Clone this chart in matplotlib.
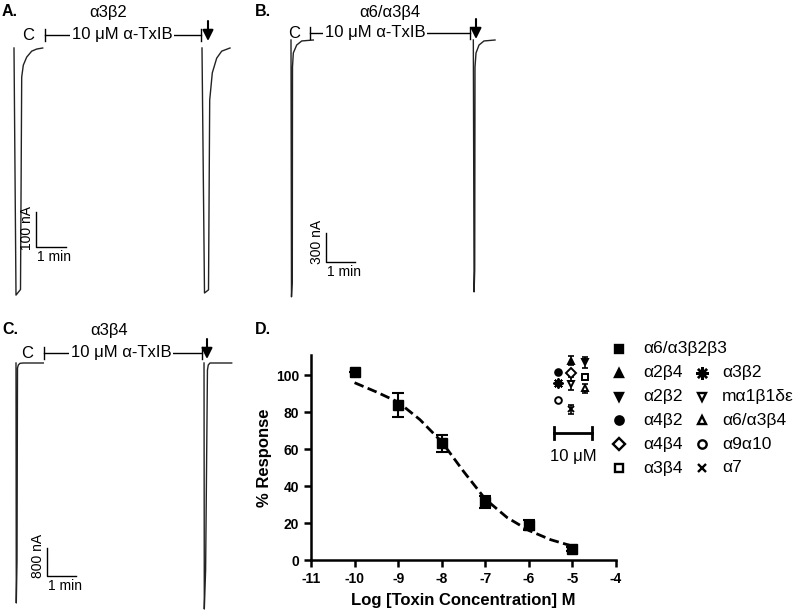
import matplotlib
matplotlib.use('Agg')
import matplotlib.pyplot as plt

plt.rcParams['font.family'] = ['Liberation Sans', 'DejaVu Sans']
plt.rcParams['axes.unicode_minus'] = False

W, H = 794, 610

# ---- current traces (time in s, current in nA) ----
a_ctrl_t = [0, 4, 13, 15.4, 18.6, 25.4, 35.4, 45.4, 57.4]
a_ctrl_i = [0, -706, -690, -83, -49, -26, -9, -3, 0]
a_post_t = [376, 381, 389, 391.4, 396.6, 405.4, 415.4, 432]
a_post_i = [0, -700, -691, -149, -71, -29, -9, 0]

b_ctrl_t = [0, 1.0, 2.7, 3.1, 4.8, 11.8, 22.2, 46.2]
b_ctrl_i = [0, -2657, -2482, -279, -134, -52, -10, 0]
b_post_t = [377.4, 379, 380.3, 380.9, 383, 389.2, 399.5, 422.3]
b_post_i = [0, -2606, -2378, -279, -134, -52, -10, 0]

c_ctrl_t = [0, 0.6, 2.1, 3.1, 4.8, 8.3, 15.1, 56.5]
c_ctrl_i = [0, -6857, -5657, -143, -57, -9, 0, 0]
c_post_t = [389.2, 389.8, 392.5, 396.3, 398, 401.6, 411.9, 446.5]
c_post_i = [0, -7029, -5914, -200, -57, 0, 0, 0]

# ---- concentration-response ----
log_conc = [-10, -9, -8, -7, -6, -5]
response = [101.6, 83.8, 63.2, 31.4, 19.0, 5.9]
resp_err = [0, 6.5, 4.6, 3.5, 2.7, 1.0]

fit_x = [-10, -9.5, -9, -8.5, -8, -7.5, -7, -6.5, -6, -5.5, -5]
fit_y = [96, 91, 85.5, 76, 64, 48, 33, 23, 16, 11, 7.5]

# responses to 10 uM for the other subtypes (inset)
ASTER = (8, 2, 0)
inset_col = [0, 0, 0, 1, 1, 1, 1, 2, 2, 2]
inset_val = [102, 96, 86.5, 108, 101, 95.5, 81.5, 107, 99, 93]
inset_err = [0, 0, 0, 2.5, 0, 3.5, 2.5, 3, 0, 2.5]
inset_mk = ['o', ASTER, 'o', '^', 'D', 'v', 'x', 'v', 's', '^']
inset_fill = [True, True, False, True, False, False, True, True, False, False]
inset_x = [-5.33, -5.03, -4.71]

legend_col1 = ['α6/α3β2β3', 'α2β4', 'α2β2', 'α4β2', 'α4β4', 'α3β4']
legend_mk1 = ['s', '^', 'v', 'o', 'D', 's']
legend_fill1 = [True, True, True, True, False, False]
legend_col2 = ['α3β2', 'mα1β1δε', 'α6/α3β4', 'α9α10', 'α7']
legend_mk2 = [ASTER, 'v', '^', 'o', 'x']
legend_fill2 = [True, False, False, False, True]


def px_box(l, t, r, b):
    return [l / W, 1 - b / H, (r - l) / W, (b - t) / H]


def trace_panel(fig, box, t0, base, s_px, na_px, traces, corner, bar_na):
    l, t, r, b = box
    ax = fig.add_axes(px_box(l, t, r, b))
    ax.set_xlim((l - t0) * s_px, (r - t0) * s_px)
    ax.set_ylim(-(b - base) * na_px, -(t - base) * na_px)
    ax.axis('off')
    for tt, ii in traces:
        ax.plot(tt, ii, color='#222222', lw=1.0)
    bx = (corner[0] - t0) * s_px
    by = -(corner[1] - base) * na_px
    ax.plot([bx, bx, bx + 60], [by + bar_na, by, by], color='black', lw=1.0)
    return ax


def marker_size(m, ms):
    return ms * 1.5 if m == ASTER else ms


fig = plt.figure(figsize=(W / 100, H / 100), dpi=100)

trace_panel(fig, (0, 30, 260, 310), 14, 48, 2.0, 100 / 35,
            [(a_ctrl_t, a_ctrl_i), (a_post_t, a_post_i)], (36, 247), 100)
trace_panel(fig, (260, 30, 520, 310), 291, 40, 2.07, 300 / 29,
            [(b_ctrl_t, b_ctrl_i), (b_post_t, b_post_i)], (326, 262), 300)
trace_panel(fig, (0, 345, 260, 610), 16, 363, 2.07, 800 / 28,
            [(c_ctrl_t, c_ctrl_i), (c_post_t, c_post_i)], (47, 576), 800)

# ---- panel D ----
ax = fig.add_axes(px_box(311, 355, 616, 560))
ax.plot(fit_x, fit_y, color='black', lw=2.0, ls=(0, (3.5, 1.6)), zorder=2)
ax.errorbar(log_conc, response, yerr=resp_err, fmt='s', color='black',
            ms=6.5, capsize=4, elinewidth=1.5, capthick=1.5, zorder=3)
for c, v, e, m, f in zip(inset_col, inset_val, inset_err, inset_mk, inset_fill):
    x = inset_x[c]
    if e:
        ax.errorbar([x], [v], yerr=[e], fmt='none', ecolor='black',
                    capsize=2.5, elinewidth=1.2, capthick=1.2, clip_on=False)
    ax.plot([x], [v], marker=m, ms=marker_size(m, 4.8), color='black',
            mfc='black' if f else 'white', mew=1.4, clip_on=False, zorder=4)
ax.set_xlim(-11, -4)
ax.set_ylim(0, 111)
ax.set_xticks(range(-11, -3))
ax.set_yticks(range(0, 101, 20))
for s in ['top', 'right']:
    ax.spines[s].set_visible(False)
for s in ['left', 'bottom']:
    ax.spines[s].set_linewidth(1.8)
ax.tick_params(direction='out', length=5, width=1.8, labelsize=10)
for lab in ax.get_xticklabels() + ax.get_yticklabels():
    lab.set_fontweight('bold')
ax.set_xlabel('Log [Toxin Concentration] M', fontsize=12,
              fontweight='bold', labelpad=5)
ax.set_ylabel('% Response', fontsize=12, fontweight='bold', labelpad=3)

# ---- overlay for annotations ----
ov = fig.add_axes([0, 0, 1, 1], zorder=5)
ov.set_xlim(0, W)
ov.set_ylim(H, 0)
ov.axis('off')
ov.patch.set_alpha(0)

tfs = 12
for lab, x, y in [('A.', 2, 11), ('B.', 255, 11), ('C.', 2, 330), ('D.', 255, 330)]:
    ov.text(x, y, lab, fontsize=11.5, fontweight='bold', ha='left', va='center')

for title, tx, ty in [('α3β2', 108, 13), ('α6/α3β4', 390, 13), ('α3β4', 109, 330)]:
    ov.text(tx, ty, title, fontsize=tfs, ha='center', va='center')

# control label, wash bracket and washout arrow
for cx, l, r, txc, ax_x, y in [(28, 45, 201, 122, 208, 35),
                               (294, 310, 470, 375, 476, 33),
                               (27, 44, 202, 121, 207, 353)]:
    ov.text(cx, y, 'C', fontsize=tfs, ha='center', va='center')
    ov.plot([l, r], [y, y], color='black', lw=1.0)
    ov.plot([l, l], [y - 6, y + 6], color='black', lw=1.0)
    ov.plot([r, r], [y - 6, y + 6], color='black', lw=1.0)
    ov.text(txc, y, '10 μM α-TxIB', fontsize=tfs, ha='center', va='center',
            bbox=dict(fc='white', ec='none', pad=1.5))
    ov.annotate('', xy=(ax_x, y + 6), xytext=(ax_x, y - 14),
                arrowprops=dict(arrowstyle='-|>', color='black', lw=1.5,
                                mutation_scale=16, shrinkA=0, shrinkB=0))

# scale bar labels
for lab, x, y, mx, my in [('100 nA', 34, 250, 36, 250),
                          ('300 nA', 324, 264, 326, 265),
                          ('800 nA', 45, 578, 47, 579)]:
    ov.text(x, y, lab, fontsize=10, rotation=90, ha='right', va='bottom')
    ov.text(mx + 1, my, '1 min', fontsize=10, ha='left', va='top')

# inset scale
ov.plot([554, 592], [433, 433], color='black', lw=2)
ov.plot([554, 554], [427, 439], color='black', lw=2)
ov.plot([592, 592], [427, 439], color='black', lw=2)
ov.text(573, 457, '10 μM', fontsize=12, ha='center', va='center')

# legend
rows = [349 + 23.8 * i for i in range(6)]
for y, lab, m, f in zip(rows, legend_col1, legend_mk1, legend_fill1):
    ov.plot([619], [y], marker=m, ms=marker_size(m, 6), color='black',
            mfc='black' if f else 'white', mew=1.7)
    ov.text(643, y, lab, fontsize=12.5, ha='left', va='center')
for y, lab, m, f in zip(rows[1:], legend_col2, legend_mk2, legend_fill2):
    ov.plot([702], [y], marker=m, ms=marker_size(m, 6), color='black',
            mfc='black' if f else 'white', mew=1.7)
    ov.text(722, y, lab, fontsize=12.5, ha='left', va='center')

fig.savefig('out.png', dpi=100)
